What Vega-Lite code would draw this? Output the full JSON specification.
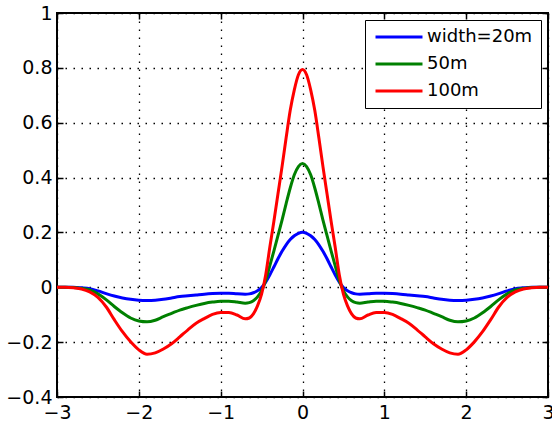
{
  "$schema": "https://vega.github.io/schema/vega-lite/v6.json",
  "width": 491,
  "height": 384,
  "autosize": {"type": "none"},
  "padding": {"left": 57, "top": 13, "right": 4, "bottom": 30},
  "background": "white",
  "view": {"stroke": "black", "strokeWidth": 2},
  "data": {"values": [
    {"x": -3.0, "w020": 0, "w050": 0, "w100": 0},
    {"x": -2.9, "w020": 0, "w050": 0, "w100": 0},
    {"x": -2.8, "w020": 0, "w050": -0.001, "w100": -0.002},
    {"x": -2.7, "w020": -0.002, "w050": -0.004, "w100": -0.006},
    {"x": -2.6, "w020": -0.005, "w050": -0.010, "w100": -0.017},
    {"x": -2.5, "w020": -0.013, "w050": -0.024, "w100": -0.037},
    {"x": -2.4, "w020": -0.023, "w050": -0.045, "w100": -0.071},
    {"x": -2.3, "w020": -0.032, "w050": -0.070, "w100": -0.118},
    {"x": -2.2, "w020": -0.039, "w050": -0.093, "w100": -0.162},
    {"x": -2.1, "w020": -0.044, "w050": -0.112, "w100": -0.199},
    {"x": -2.0, "w020": -0.047, "w050": -0.123, "w100": -0.228},
    {"x": -1.9, "w020": -0.048, "w050": -0.126, "w100": -0.244},
    {"x": -1.8, "w020": -0.047, "w050": -0.120, "w100": -0.239},
    {"x": -1.7, "w020": -0.044, "w050": -0.107, "w100": -0.225},
    {"x": -1.6, "w020": -0.039, "w050": -0.095, "w100": -0.206},
    {"x": -1.5, "w020": -0.034, "w050": -0.083, "w100": -0.181},
    {"x": -1.4, "w020": -0.031, "w050": -0.074, "w100": -0.155},
    {"x": -1.3, "w020": -0.028, "w050": -0.066, "w100": -0.131},
    {"x": -1.2, "w020": -0.025, "w050": -0.059, "w100": -0.114},
    {"x": -1.1, "w020": -0.023, "w050": -0.054, "w100": -0.099},
    {"x": -1.0, "w020": -0.022, "w050": -0.051, "w100": -0.092},
    {"x": -0.9, "w020": -0.022, "w050": -0.051, "w100": -0.092},
    {"x": -0.8, "w020": -0.024, "w050": -0.054, "w100": -0.101},
    {"x": -0.7, "w020": -0.025, "w050": -0.058, "w100": -0.115},
    {"x": -0.65, "w020": -0.024, "w050": -0.056, "w100": -0.112},
    {"x": -0.6, "w020": -0.020, "w050": -0.049, "w100": -0.097},
    {"x": -0.55, "w020": -0.013, "w050": -0.035, "w100": -0.068},
    {"x": -0.5, "w020": -0.001, "w050": -0.012, "w100": -0.025},
    {"x": -0.45, "w020": 0.019, "w050": 0.025, "w100": 0.045},
    {"x": -0.4, "w020": 0.045, "w050": 0.078, "w100": 0.145},
    {"x": -0.35, "w020": 0.074, "w050": 0.132, "w100": 0.24},
    {"x": -0.3, "w020": 0.104, "w050": 0.188, "w100": 0.34},
    {"x": -0.25, "w020": 0.131, "w050": 0.245, "w100": 0.44},
    {"x": -0.2, "w020": 0.155, "w050": 0.305, "w100": 0.545},
    {"x": -0.15, "w020": 0.174, "w050": 0.362, "w100": 0.645},
    {"x": -0.1, "w020": 0.188, "w050": 0.41, "w100": 0.72},
    {"x": -0.05, "w020": 0.197, "w050": 0.44, "w100": 0.775},
    {"x": 0.0, "w020": 0.201, "w050": 0.451, "w100": 0.794},
    {"x": 0.05, "w020": 0.197, "w050": 0.44, "w100": 0.775},
    {"x": 0.1, "w020": 0.188, "w050": 0.41, "w100": 0.72},
    {"x": 0.15, "w020": 0.174, "w050": 0.362, "w100": 0.645},
    {"x": 0.2, "w020": 0.155, "w050": 0.305, "w100": 0.545},
    {"x": 0.25, "w020": 0.131, "w050": 0.245, "w100": 0.44},
    {"x": 0.3, "w020": 0.104, "w050": 0.188, "w100": 0.34},
    {"x": 0.35, "w020": 0.074, "w050": 0.132, "w100": 0.24},
    {"x": 0.4, "w020": 0.045, "w050": 0.078, "w100": 0.145},
    {"x": 0.45, "w020": 0.019, "w050": 0.025, "w100": 0.045},
    {"x": 0.5, "w020": -0.001, "w050": -0.012, "w100": -0.025},
    {"x": 0.55, "w020": -0.013, "w050": -0.035, "w100": -0.068},
    {"x": 0.6, "w020": -0.020, "w050": -0.049, "w100": -0.097},
    {"x": 0.65, "w020": -0.024, "w050": -0.056, "w100": -0.112},
    {"x": 0.7, "w020": -0.025, "w050": -0.058, "w100": -0.115},
    {"x": 0.8, "w020": -0.024, "w050": -0.054, "w100": -0.101},
    {"x": 0.9, "w020": -0.022, "w050": -0.051, "w100": -0.092},
    {"x": 1.0, "w020": -0.022, "w050": -0.051, "w100": -0.092},
    {"x": 1.1, "w020": -0.023, "w050": -0.054, "w100": -0.099},
    {"x": 1.2, "w020": -0.025, "w050": -0.059, "w100": -0.114},
    {"x": 1.3, "w020": -0.028, "w050": -0.066, "w100": -0.131},
    {"x": 1.4, "w020": -0.031, "w050": -0.074, "w100": -0.155},
    {"x": 1.5, "w020": -0.034, "w050": -0.083, "w100": -0.181},
    {"x": 1.6, "w020": -0.039, "w050": -0.095, "w100": -0.206},
    {"x": 1.7, "w020": -0.044, "w050": -0.107, "w100": -0.225},
    {"x": 1.8, "w020": -0.047, "w050": -0.120, "w100": -0.239},
    {"x": 1.9, "w020": -0.048, "w050": -0.126, "w100": -0.244},
    {"x": 2.0, "w020": -0.047, "w050": -0.123, "w100": -0.228},
    {"x": 2.1, "w020": -0.044, "w050": -0.112, "w100": -0.199},
    {"x": 2.2, "w020": -0.039, "w050": -0.093, "w100": -0.162},
    {"x": 2.3, "w020": -0.032, "w050": -0.070, "w100": -0.118},
    {"x": 2.4, "w020": -0.023, "w050": -0.045, "w100": -0.071},
    {"x": 2.5, "w020": -0.013, "w050": -0.024, "w100": -0.037},
    {"x": 2.6, "w020": -0.005, "w050": -0.010, "w100": -0.017},
    {"x": 2.7, "w020": -0.002, "w050": -0.004, "w100": -0.006},
    {"x": 2.8, "w020": 0, "w050": -0.001, "w100": -0.002},
    {"x": 2.9, "w020": 0, "w050": 0, "w100": 0},
    {"x": 3.0, "w020": 0, "w050": 0, "w100": 0}
  ]},
  "transform": [{"fold": ["w020", "w050", "w100"], "as": ["series", "y"]}],
  "layer": [
    {
      "mark": {"type": "line", "strokeWidth": 3, "interpolate": "monotone", "clip": true},
      "encoding": {
        "x": {"field": "x", "type": "quantitative",
          "scale": {"domain": [-3, 3], "nice": false, "zero": false},
          "axis": {"orient": "bottom", "values": [-3, -2, -1, 0, 1, 2, 3], "title": null,
            "grid": true, "gridColor": "black", "gridDash": [1.5, 6.5], "gridWidth": 1.3, "gridOpacity": 1,
            "domain": false, "ticks": true, "tickSize": -6, "tickColor": "black", "tickWidth": 1.5,
            "labelFont": "DejaVu Sans", "labelFontSize": 19, "labelColor": "black", "labelPadding": 12,
            "labelFlush": false, "labelOverlap": false}},
        "y": {"field": "y", "type": "quantitative",
          "scale": {"domain": [-0.4, 1], "nice": false, "zero": false},
          "axis": {"orient": "left", "values": [-0.4, -0.2, 0, 0.2, 0.4, 0.6, 0.8, 1], "format": "~g", "title": null,
            "grid": true, "gridColor": "black", "gridDash": [1.5, 6.5], "gridWidth": 1.3, "gridOpacity": 1,
            "domain": false, "ticks": true, "tickSize": -6, "tickColor": "black", "tickWidth": 1.5,
            "labelFont": "DejaVu Sans", "labelFontSize": 19, "labelColor": "black", "labelPadding": 11,
            "labelFlush": false, "labelOverlap": false}},
        "color": {"field": "series", "type": "nominal",
          "scale": {"domain": ["w020", "w050", "w100"], "range": ["#0000ff", "#008000", "#ff0000"]},
          "legend": {"orient": "none", "legendX": 308, "legendY": 7, "title": null,
            "labelExpr": "datum.value == 'w020' ? 'width=20m' : datum.value == 'w050' ? '50m' : '100m'",
            "symbolType": "M-4,0H4", "symbolSize": 138, "symbolStrokeWidth": 3,
            "symbolOffset": 17, "labelOffset": 19,
            "labelFont": "DejaVu Sans", "labelFontSize": 18, "labelColor": "black", "labelLimit": 300,
            "strokeColor": "black", "fillColor": "white", "padding": 8, "rowPadding": 9, "cornerRadius": 0}}
      }
    },
    {
      "mark": {"type": "line", "strokeWidth": 0, "opacity": 0},
      "encoding": {
        "x": {"field": "x", "type": "quantitative",
          "axis": {"orient": "top", "values": [-3, -2, -1, 0, 1, 2, 3], "title": null, "labels": false,
            "grid": false, "domain": false, "ticks": true, "tickSize": -6, "tickColor": "black", "tickWidth": 1.5}},
        "y": {"field": "y", "type": "quantitative",
          "axis": {"orient": "right", "values": [-0.4, -0.2, 0, 0.2, 0.4, 0.6, 0.8, 1], "title": null, "labels": false,
            "grid": false, "domain": false, "ticks": true, "tickSize": -6, "tickColor": "black", "tickWidth": 1.5}},
        "detail": {"field": "series", "type": "nominal"}
      }
    }
  ],
  "resolve": {"axis": {"x": "independent", "y": "independent"}}
}
